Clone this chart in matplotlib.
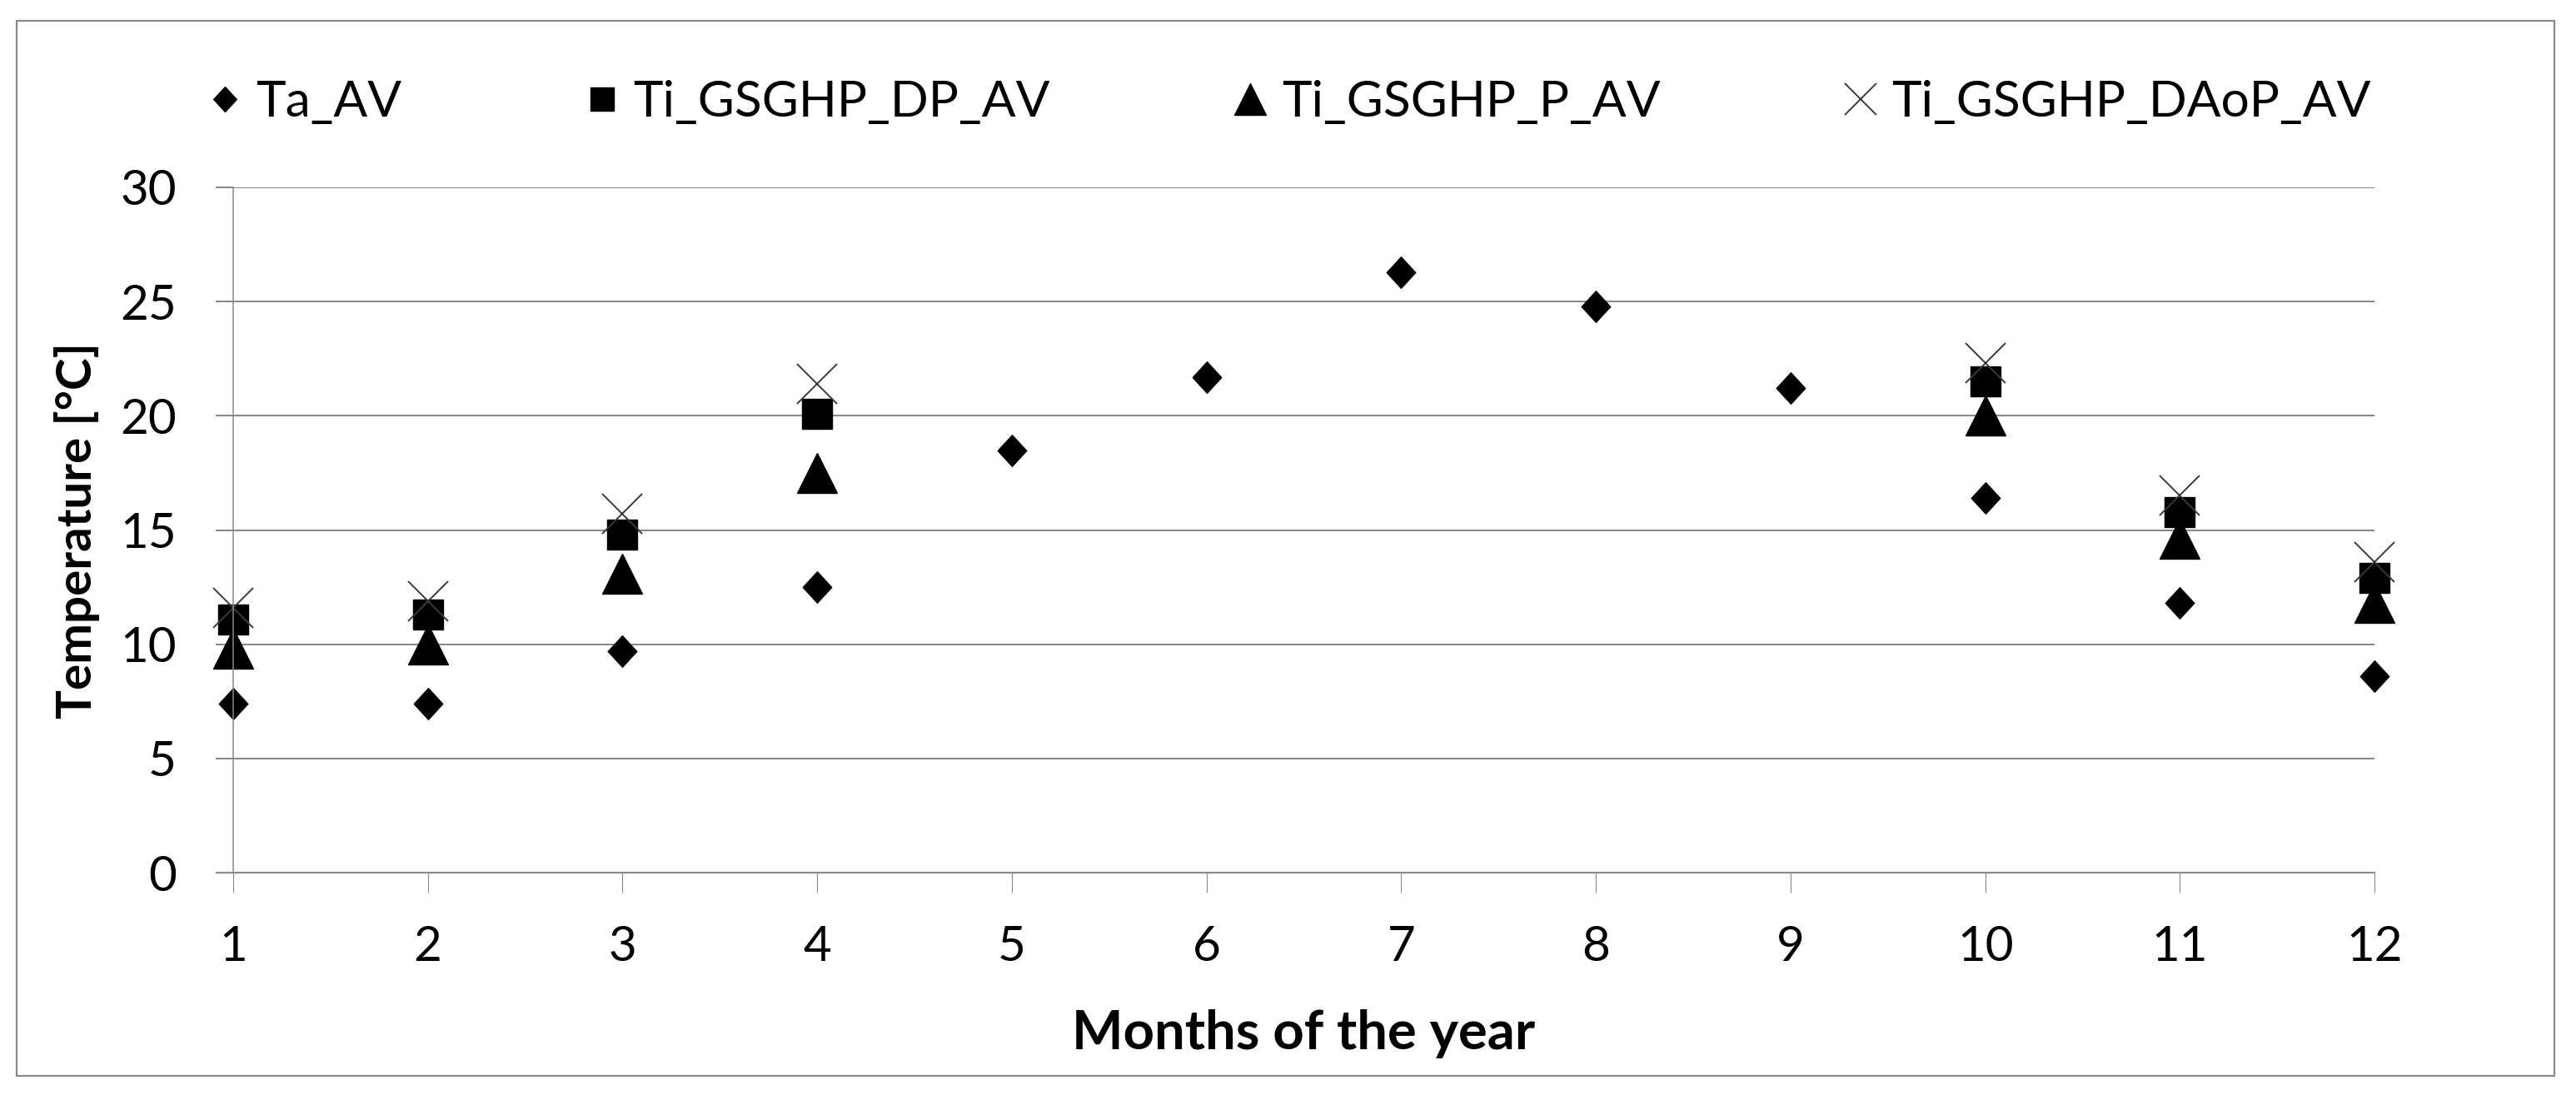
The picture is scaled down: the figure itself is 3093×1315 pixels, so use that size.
import numpy as np
import matplotlib
matplotlib.use("Agg")
import matplotlib.pyplot as plt
from matplotlib.path import Path
from matplotlib.patches import Rectangle

plt.rcParams['font.family'] = ['Lato', 'DejaVu Sans']

# data
months = [1, 2, 3, 4, 5, 6, 7, 8, 9, 10, 11, 12]
ta_av = [7.4, 7.4, 9.7, 12.5, 18.5, 21.7, 26.3, 24.8, 21.2, 16.4, 11.8, 8.6]
months_ti = [1, 2, 3, 4, 10, 11, 12]
ti_dp_av = [11.1, 11.3, 14.8, 20.1, 21.5, 15.8, 12.9]
ti_p_av = [9.8, 10.0, 13.1, 17.5, 20.0, 14.6, 11.8]
ti_daop_av = [11.6, 11.9, 15.7, 21.4, 22.3, 16.5, 13.6]
labels = ['Ta_AV', 'Ti_GSGHP_DP_AV', 'Ti_GSGHP_P_AV', 'Ti_GSGHP_DAoP_AV']

grey = '#898989'
diamond = Path([(0, 1), (0.92, 0), (0, -1), (-0.92, 0), (0, 1)],
               [Path.MOVETO, Path.LINETO, Path.LINETO, Path.LINETO, Path.CLOSEPOLY])

fig = plt.figure(figsize=(30.93, 13.15), dpi=100)
ax = fig.add_axes([0.0905, 0.2030, 0.8313, 0.6259])

ax.plot(months, ta_av, ls='none', marker=diamond, ms=27, color='black',
        label=labels[0], clip_on=False)
ax.plot(months_ti, ti_dp_av, ls='none', marker='s', ms=26, color='black',
        label=labels[1], clip_on=False)
ax.plot(months_ti, ti_p_av, ls='none', marker='^', ms=34, color='black',
        label=labels[2], clip_on=False)
ax.plot(months_ti, ti_daop_av, ls='none', marker='x', ms=34, mew=1.4, color='#3a3a3a',
        label=labels[3], clip_on=False)

ax.set_xlim(1, 12)
ax.set_ylim(0, 30)
ax.set_xticks(months)
ax.set_yticks(np.arange(0, 31, 5))
ax.yaxis.grid(True, color=grey, lw=1.5)
ax.set_axisbelow(True)
for s in ['top', 'right']:
    ax.spines[s].set_visible(False)
ax.spines['bottom'].set_color(grey)
ax.spines['bottom'].set_linewidth(1.5)
ax.spines['left'].set_color(grey)
ax.spines['left'].set_linewidth(1.1)
ax.tick_params(axis='x', direction='out', length=17, width=0.8, color=grey, pad=28,
               labelsize=42)
ax.tick_params(axis='y', direction='out', length=15, width=1.5, color=grey, pad=34,
               labelsize=42)

ax.set_xlabel('Months of the year', fontsize=47, fontweight='bold')
ax.xaxis.set_label_coords(0.5, -0.2576)
ax.xaxis.label.set_va('baseline')
ax.set_ylabel('Temperature [°C]', fontsize=42, fontweight='bold')
ax.yaxis.set_label_coords(-0.073, 0.5)
ax.yaxis.label.set_va('center')

ax.legend(loc='center left', bbox_to_anchor=(253 / 3093, 1 - 123 / 1315),
          bbox_transform=fig.transFigure, ncol=4, frameon=False, fontsize=43.5,
          handlelength=0.55, handletextpad=0.35, columnspacing=3.7,
          borderpad=0, borderaxespad=0, markerscale=0.8)

fig.add_artist(Rectangle((20 / 3093, 1 - 1292 / 1315), 3047 / 3093, 1267 / 1315,
                         transform=fig.transFigure, fill=False, ec=grey, lw=1.6))

fig.savefig('out.png', dpi=100, facecolor='white')
